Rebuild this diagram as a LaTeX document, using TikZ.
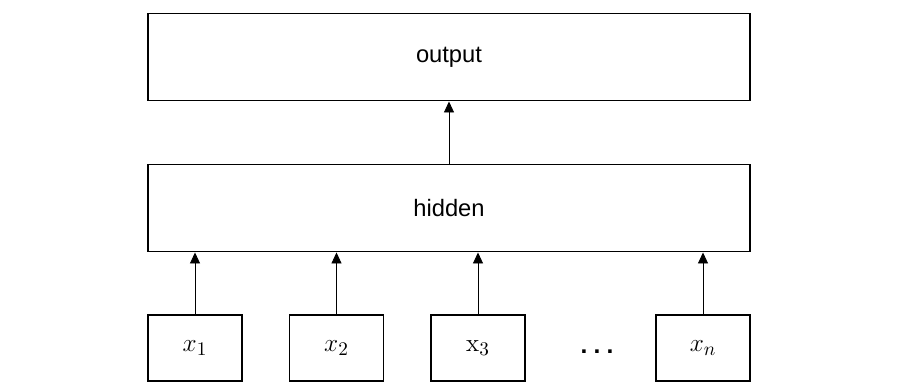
\documentclass[tikz,border=0pt]{standalone}
\usepackage[no-math]{fontspec}
\setmainfont{Liberation Sans}
\usetikzlibrary{arrows.meta, positioning}

\begin{document}
\begin{tikzpicture}[x=0.02cm, y=-0.02cm,
        layer/.style = {draw, line width=1.1pt, minimum width=12.04cm, minimum height=1.74cm, inner sep=0pt, font=\fontsize{13.5}{16}\selectfont},
        inp/.style   = {draw, line width=1.1pt, minimum width=1.88cm, minimum height=1.32cm, inner sep=0pt, font=\fontsize{15}{18}\selectfont},
        ar/.style    = {-{Triangle[length=2.2mm, width=2mm]}, line width=0.5pt}
    ]
        \useasboundingbox (0,0) rectangle (900,390);

        \node[layer] (out) at (449,57)  {output};
        \node[layer] (hid) at (449,208) {hidden};

        \node[inp] (x1) at (195,348)   {$x_1$};
        \node[inp] (x2) at (336.5,348) {$x_2$};
        \node[inp] (x3) at (478,348)   {$\mathrm{x}_3$};
        \node[inp] (xn) at (703,348)   {$x_n$};
        \node[font=\fontsize{14}{14}\selectfont\bfseries] (dots) at (597,352) {.\hspace{3.5pt}.\hspace{3.5pt}.};

        \draw[ar] (hid.north) -- (out.south);
        \foreach \n in {x1, x2, x3, xn}
            \draw[ar] (\n.north) -- (\n.north |- hid.south);
    \end{tikzpicture}
\end{document}
